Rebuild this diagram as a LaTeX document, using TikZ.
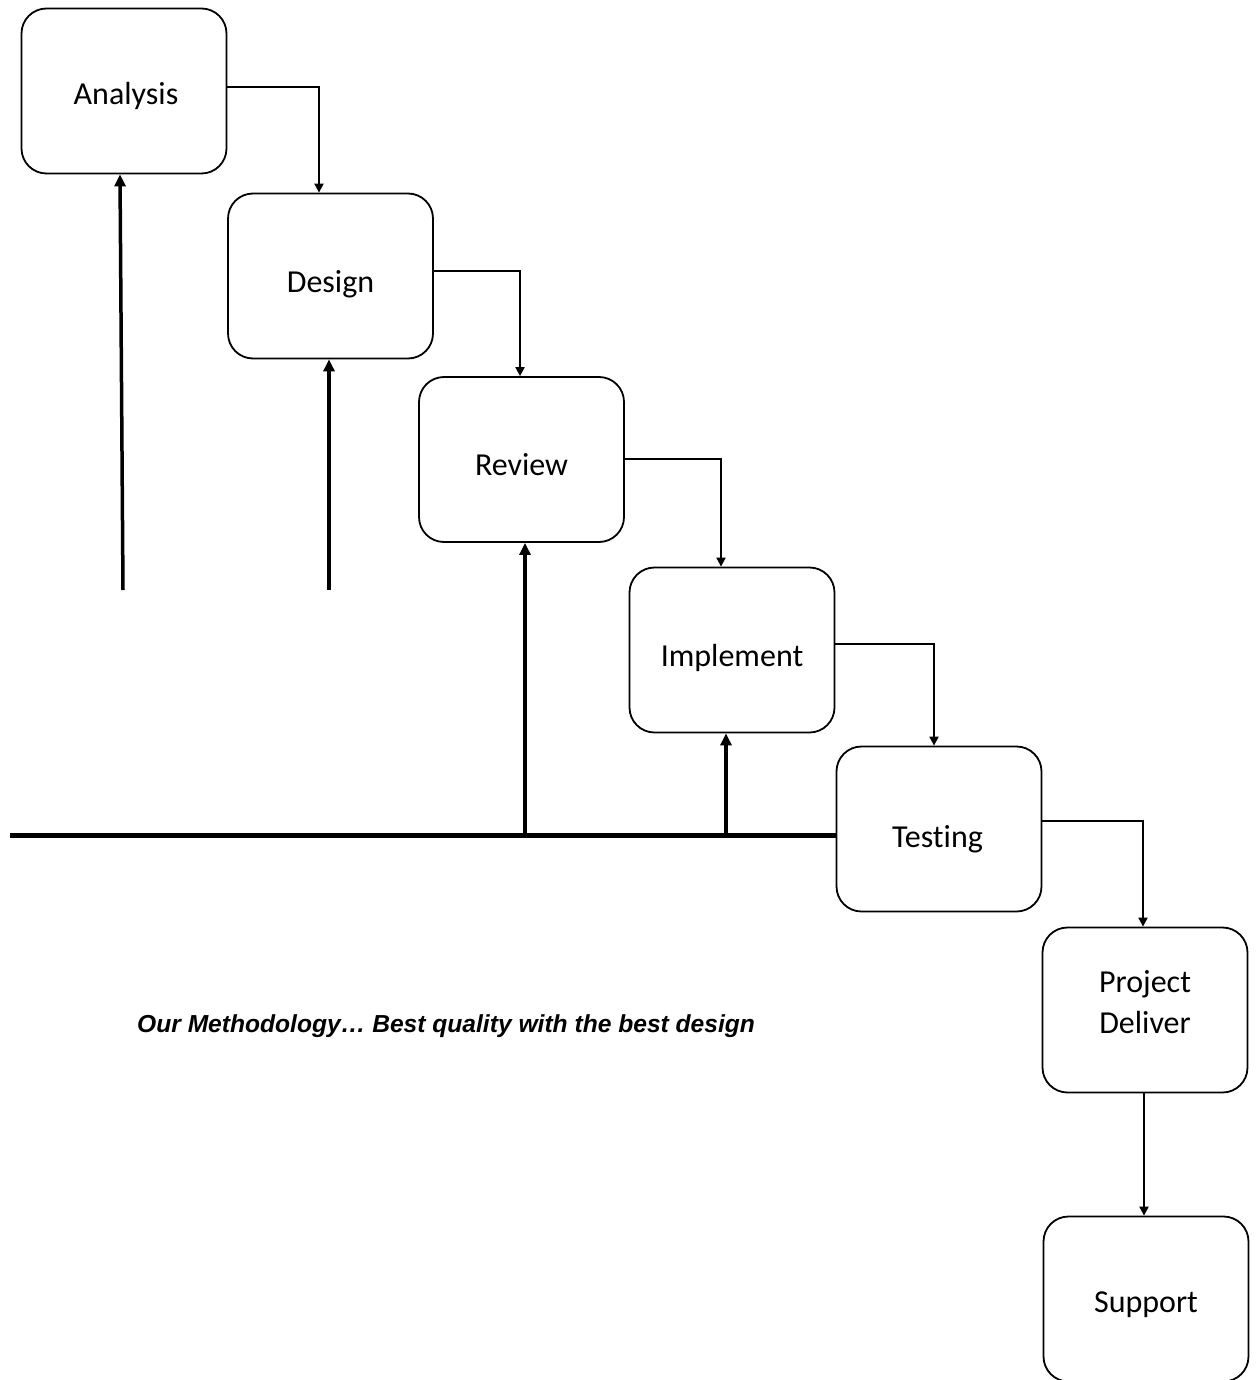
\documentclass[tikz,border=0pt]{standalone}
\usepackage{fontspec}
\setmainfont{Carlito}[Ligatures=CommonOff]
\newfontfamily\capfont{Liberation Sans}
\usetikzlibrary{arrows.meta}
\newcommand{\liftby}[2]{\raisebox{#1}[\height][\depth]{#2}}
\begin{document}
\begin{tikzpicture}[x=1pt,y=-1pt,
  stagebox/.style={draw=black,line width=1.8pt,rounded corners=25pt,
    minimum width=205pt,minimum height=165pt,inner sep=0pt,align=center,
    font=\fontsize{32}{41}\selectfont},
  lowtext/.style={text height=#1,text depth=0pt},
  flow/.style={draw=black,line width=2pt,-{Triangle[length=9pt,width=9pt]}},
  feed/.style={draw=black,line width=3.5pt,-{Triangle[length=12pt,width=11pt]}},
  base/.style={draw=black,line width=5pt}]
\useasboundingbox (0,0) rectangle (1259,1380);
\node[stagebox,lowtext=28pt] (ana) at (124,91) {\hspace*{4pt}Analysis};
\node[stagebox,lowtext=33pt] (des) at (330.5,276) {Design};
\node[stagebox,lowtext=31pt] (rev) at (521.5,459.5) {Review};
\node[stagebox,lowtext=33pt] (imp) at (732,650) {Implement};
\node[stagebox,lowtext=36pt] (tes) at (939,829) {Testing\hspace*{3pt}};
\node[stagebox] (pro) at (1145,1010) {\liftby{8pt}{Project}\\\liftby{8pt}{Deliver}};
\node[stagebox,lowtext=26pt] (sup) at (1146,1299) {Support};
% flow connectors
\draw[flow] ([yshift=4pt]ana.east) -| ([xshift=-11.5pt]des.north);
\draw[flow] ([yshift=5pt]des.east) -| ([xshift=-1.5pt]rev.north);
\draw[flow] ([yshift=0.5pt]rev.east) -| ([xshift=-11pt]imp.north);
\draw[flow] ([yshift=6pt]imp.east) -| ([xshift=-5pt]tes.north);
\draw[flow] ([yshift=8pt]tes.east) -| ([xshift=-2pt]pro.north);
\draw[flow] ([xshift=-1pt]pro.south) -- ([xshift=-1pt]pro.south |- sup.north);
% feedback
\coordinate (f1) at (123,590);
\coordinate (f2) at (329,590);
\coordinate (b0) at (10,835);
\coordinate (b1) at (525,835);
\coordinate (b2) at (726,835);
\draw[feed] (f1) -- ([xshift=-4pt]ana.south);
\draw[feed] (f2) -- ([xshift=-1.5pt]des.south);
\draw[base] (b0) -- (b0 -| tes.west);
\draw[feed] (b1) -- (b1 |- rev.south);
\draw[feed] (b2) -- (b2 |- imp.south);
\node[anchor=base west,inner sep=0pt,font=\capfont\fontsize{24.6}{30}\selectfont\bfseries\itshape] (cap) at (137,1032) {Our Methodology… Best quality with the best design};
\end{tikzpicture}
\end{document}
